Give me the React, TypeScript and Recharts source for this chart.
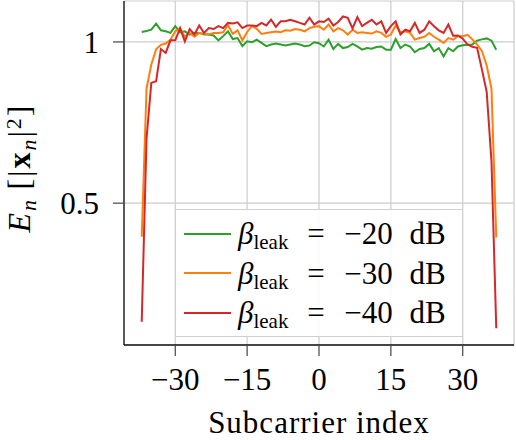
import React from 'react';
import { LineChart, Line, XAxis, YAxis, CartesianGrid, Legend } from 'recharts';

const subcarriers = [
  -37, -36, -35, -34, -33, -32, -31, -30, -29, -28, -27, -26, -25, -24, -23, -22, -21, -20, -19,
  -18, -17, -16, -15, -14, -13, -12, -11, -10, -9, -8, -7, -6, -5, -4, -3, -2, -1, 0, 1, 2, 3, 4,
  5, 6, 7, 8, 9, 10, 11, 12, 13, 14, 15, 16, 17, 18, 19, 20, 21, 22, 23, 24, 25, 26, 27, 28, 29,
  30, 31, 32, 33, 34, 35, 36, 37,
];

const leak20dB = [
  1.031, 1.034, 1.038, 1.057, 1.036, 1.033, 1.028, 1.049, 1.03, 1.033, 1.023, 1.028, 1.028, 1.023,
  1.023, 1.02, 1.005, 1.018, 1.033, 1.009, 1.012, 0.987, 1.002, 0.999, 1.007, 0.997, 0.987, 0.992,
  0.995, 0.992, 0.989, 0.992, 0.995, 0.992, 0.987, 0.989, 0.999, 0.996, 0.986, 1.007, 0.978, 0.994,
  0.981, 0.984, 0.994, 0.986, 0.976, 0.981, 0.979, 0.984, 0.986, 0.976, 0.976, 1.009, 0.981, 0.992,
  0.986, 0.968, 0.978, 0.981, 0.994, 0.971, 0.981, 0.955, 0.981, 0.971, 0.986, 0.99, 0.991, 0.992,
  1.004, 1.008, 1.011, 1.004, 0.976,
];

const leak30dB = [
  0.396, 0.855, 0.93, 0.977, 0.991, 0.995, 1.007, 1.033, 1.043, 1.016, 1.028, 1.016, 1.028, 1.025,
  1.023, 1.028, 1.028, 1.03, 1.052, 1.025, 1.036, 1.005, 1.031, 1.049, 1.041, 1.025, 1.028, 1.03,
  1.032, 1.03, 1.036, 1.035, 1.04, 1.038, 1.033, 1.043, 1.047, 1.049, 1.038, 1.054, 1.033, 1.043,
  1.036, 1.023, 1.038, 1.028, 1.03, 1.028, 1.026, 1.033, 1.028, 1.016, 1.023, 1.051, 1.03, 1.033,
  1.028, 1.007, 1.012, 1.016, 1.028, 1.016, 1.007, 0.997, 1.012, 1.007, 1.018, 1.018, 1.022, 1.008,
  0.992, 0.972, 0.927, 0.855, 0.393,
];

const leak40dB = [
  0.132, 0.7, 0.873, 0.878, 0.978, 0.966, 1.005, 1.005, 1.043, 1.002, 1.04, 1.023, 1.051, 1.028,
  1.043, 1.04, 1.049, 1.043, 1.059, 1.057, 1.061, 1.043, 1.051, 1.051, 1.049, 1.059, 1.051, 1.069,
  1.047, 1.064, 1.064, 1.069, 1.064, 1.059, 1.054, 1.075, 1.054, 1.064, 1.062, 1.072, 1.051, 1.062,
  1.079, 1.075, 1.042, 1.077, 1.049, 1.059, 1.069, 1.054, 1.064, 1.028, 1.049, 1.064, 1.023, 1.038,
  1.033, 1.059, 1.028, 1.038, 1.064, 1.049, 1.036, 1.028, 1.054, 1.019, 1.02, 1.01, 0.992, 0.985,
  0.982, 0.915, 0.845, 0.63, 0.112,
];

const xTicks = [-30, -15, 0, 15, 30];
const yTicks = [0.5, 1];
const legendLevels = ['−20', '−30', '−40'];
const seriesKeys = ['g20', 'g30', 'g40'];
const seriesColors = ['#2ca02c', '#ff7f0e', '#d62728'];

const data = subcarriers.map((k, i) => ({
  k,
  g20: leak20dB[i],
  g30: leak30dB[i],
  g40: leak40dB[i],
}));

const FONT = "'Liberation Serif', 'Times New Roman', serif";
const FS = 31;

const fmtX = (v: number) => (v < 0 ? `−${-v}` : `${v}`);
const fmtY = (v: number) => (v === 1 ? '1' : `${v}`);

const XLabel = (props: any) => {
  const vb = props && props.viewBox ? props.viewBox : { x: 124, y: 345, width: 390, height: 95 };
  const cx = vb.x + vb.width / 2;
  return (
    <text
      x={cx}
      y={433}
      textAnchor="middle"
      fontFamily={FONT}
      fontSize={FS}
      letterSpacing={1}
      fill="#000"
    >
      Subcarrier index
    </text>
  );
};

const YLabel = (props: any) => {
  const vb = props && props.viewBox ? props.viewBox : { x: 0, y: 1, width: 124, height: 344 };
  const cx = 30;
  const cy = vb.y + vb.height / 2 - 5;
  return (
    <text
      x={cx}
      y={cy}
      transform={`rotate(-90 ${cx} ${cy})`}
      textAnchor="middle"
      fontFamily={FONT}
      fontSize={32}
      letterSpacing={2}
      fill="#000"
    >
      <tspan fontStyle="italic">E</tspan>
      <tspan fontStyle="italic" fontSize={22} dy={6}>n</tspan>
      <tspan dy={-6}>{'\u2009[|'}</tspan>
      <tspan fontWeight="bold">x</tspan>
      <tspan fontStyle="italic" fontSize={22} dy={6}>n</tspan>
      <tspan dy={-6}>|</tspan>
      <tspan fontSize={22} dy={-9}>2</tspan>
      <tspan dy={9}>]</tspan>
    </text>
  );
};

const textBox = (left: number, width: number | undefined) => ({
  position: 'absolute' as const,
  left,
  top: 4,
  width,
  lineHeight: '31px',
  textAlign: 'center' as const,
  whiteSpace: 'nowrap' as const,
});

const renderLegend = () => (
  <div
    style={{
      boxSizing: 'border-box',
      width: 288,
      height: 128,
      border: '1.2px solid #cfcfcf',
      background: 'rgba(255,255,255,0.88)',
      paddingTop: 4,
      fontFamily: FONT,
      fontSize: FS,
      color: '#000',
    }}
  >
    {legendLevels.map((lvl, i) => (
      <div key={lvl} style={{ position: 'relative', height: 39.5 }}>
        <span
          style={{
            position: 'absolute',
            left: 8,
            top: 18.75,
            width: 47,
            height: 2,
            background: seriesColors[i],
          }}
        />
        <span style={{ ...textBox(62, undefined), textAlign: 'left' }}>
          <i>β</i>
          <span style={{ fontSize: 21, position: 'relative', top: 5 }}>leak</span>
        </span>
        <span style={textBox(129, 22)}>=</span>
        <span style={textBox(164, 57)}>{lvl}</span>
        <span style={textBox(232, 39)}>dB</span>
      </div>
    ))}
  </div>
);

export default function App() {
  return (
    <div style={{ position: 'absolute', left: 0, top: 0, width: 516, height: 440, background: '#fff' }}>
      <LineChart width={516} height={440} data={data} margin={{ top: 1, right: 2, left: 0, bottom: 0 }}>
        <CartesianGrid stroke="#cccccc" strokeWidth={1.2} />
        <XAxis
          dataKey="k"
          type="number"
          domain={[-40.7, 40.7]}
          allowDataOverflow
          ticks={xTicks}
          tickFormatter={fmtX}
          tickSize={11}
          tickMargin={12}
          height={95}
          stroke="#000"
          axisLine={{ stroke: '#111', strokeWidth: 1.3 }}
          tickLine={{ stroke: '#444', strokeWidth: 1.2 }}
          tick={{ fill: '#000', fontSize: FS, fontFamily: FONT }}
          label={XLabel}
        />
        <XAxis
          xAxisId="top"
          orientation="top"
          dataKey="k"
          type="number"
          domain={[-40.7, 40.7]}
          allowDataOverflow
          height={0}
          tick={false}
          tickLine={false}
          axisLine={{ stroke: '#111', strokeWidth: 1.3 }}
        />
        <YAxis
          type="number"
          domain={[0.06, 1.127]}
          allowDataOverflow
          ticks={yTicks}
          tickFormatter={fmtY}
          tickSize={11}
          tickMargin={14}
          width={124}
          axisLine={{ stroke: '#111', strokeWidth: 1.3 }}
          tickLine={{ stroke: '#444', strokeWidth: 1.2 }}
          tick={{ fill: '#000', fontSize: FS, fontFamily: FONT }}
          label={YLabel}
        />
        <YAxis
          yAxisId="right"
          orientation="right"
          type="number"
          domain={[0.06, 1.127]}
          allowDataOverflow
          width={0}
          tick={false}
          tickLine={false}
          axisLine={{ stroke: '#111', strokeWidth: 1.3 }}
        />
        {seriesKeys.map((key, i) => (
          <Line
            key={key}
            dataKey={key}
            type="linear"
            stroke={seriesColors[i]}
            strokeWidth={2}
            dot={false}
            activeDot={false}
            isAnimationActive={false}
          />
        ))}
        <Legend
          layout="horizontal"
          verticalAlign="middle"
          align="center"
          wrapperStyle={{ left: 175, top: 209, width: 288, height: 128 }}
          content={renderLegend}
        />
      </LineChart>
    </div>
  );
}
